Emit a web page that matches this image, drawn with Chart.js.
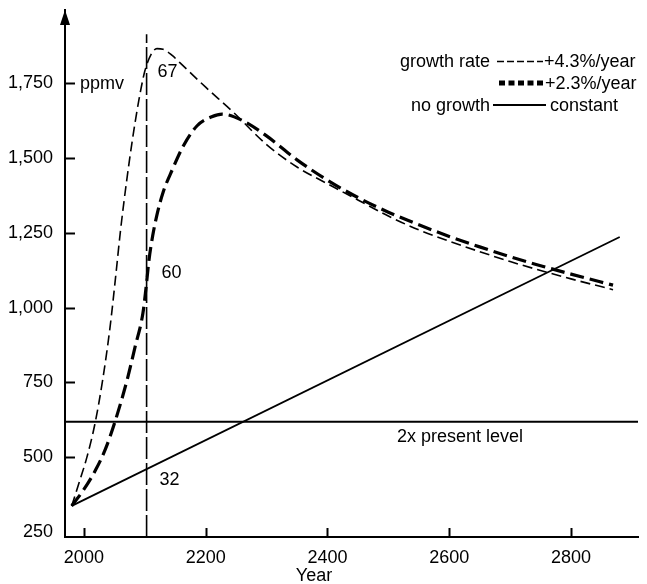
<!DOCTYPE html>
<html>
<head>
<meta charset="utf-8">
<script src="https://cdn.jsdelivr.net/npm/chart.js@4.4.1/dist/chart.umd.min.js"></script>
<style>
  html, body { margin: 0; padding: 0; background: #fff; }
  #wrap { width: 647px; height: 584px; position: relative; }
</style>
</head>
<body>
<div id="wrap"><canvas id="c" width="647" height="584"></canvas></div>
<script>
// ---- Data ----
const yearTicks = [2000, 2200, 2400, 2600, 2800];
const ppmvTicks = [250, 500, 750, 1000, 1250, 1500, 1750];

const years43 = [1980, 1993, 2005, 2018, 2031, 2043, 2052, 2060, 2070, 2080, 2090, 2100, 2110, 2120, 2130, 2145, 2158, 2200, 2245, 2300, 2350, 2400, 2450, 2500, 2550, 2600, 2650, 2700, 2750, 2800, 2869];
const ppmv43  = [337, 420, 500, 610, 760, 935, 1100, 1255, 1420, 1565, 1690, 1790, 1845, 1866, 1864, 1843, 1818, 1737, 1654, 1545, 1470, 1414, 1360, 1306, 1260, 1222, 1187, 1154, 1124, 1096, 1060];

const years23 = [1980, 2000, 2020, 2035, 2051, 2071, 2084, 2097, 2102, 2107, 2113, 2120, 2130, 2145, 2164, 2186, 2210, 2227, 2260, 2300, 2350, 2400, 2450, 2500, 2550, 2600, 2650, 2700, 2750, 2800, 2869];
const ppmv23  = [337, 392, 460, 525, 618, 758, 868, 982, 1065, 1160, 1240, 1310, 1385, 1460, 1543, 1608, 1638, 1647, 1626, 1574, 1494, 1426, 1368, 1319, 1277, 1238, 1203, 1170, 1140, 1112, 1075];

const yearsConst = [1980, 2880];
const ppmvConst  = [337, 1236];

const twiceLevel = 618;          // "2x present level"
const markYear = 2103;           // vertical dashed marker
const markTop = 1914;
const markLabels = ["67", "60", "32"];
const labelValues = [1793, 1122, 430];   // where the three labels sit

const FONT = "'Liberation Sans', Arial, Helvetica, sans-serif";

function pts(xs, ys) { return xs.map((x, i) => ({ x: x, y: ys[i] })); }

const X_MIN = 1969, X_MAX = 2910, Y_MIN = 233, Y_MAX = 1995;

const annotate = {
  id: 'annotate',
  afterDraw(chart) {
    const ctx = chart.ctx;
    const xs = chart.scales.x, ys = chart.scales.y;
    const area = chart.chartArea;
    ctx.save();
    ctx.strokeStyle = '#000';
    ctx.fillStyle = '#000';
    ctx.lineWidth = 2;
    ctx.setLineDash([]);
    // inward ticks
    ppmvTicks.forEach(v => {
      if (v === 250) return;
      const py = Math.round(ys.getPixelForValue(v)) + 0.5;
      ctx.beginPath(); ctx.moveTo(area.left, py); ctx.lineTo(area.left + 10, py); ctx.stroke();
    });
    yearTicks.forEach(v => {
      const px = Math.round(xs.getPixelForValue(v)) + 0.5;
      ctx.beginPath(); ctx.moveTo(px, area.bottom); ctx.lineTo(px, area.bottom - 9); ctx.stroke();
    });
    // arrow on y axis
    ctx.beginPath();
    ctx.moveTo(area.left, area.top);
    ctx.lineTo(area.left - 5, area.top + 15);
    ctx.lineTo(area.left + 5, area.top + 15);
    ctx.closePath();
    ctx.fill();

    // texts
    ctx.font = '18px ' + FONT;
    ctx.textBaseline = 'alphabetic';
    ctx.textAlign = 'left';
    ctx.fillText('ppmv', 80, 89);
    const mx = xs.getPixelForValue(markYear);
    ctx.fillText(markLabels[0], mx + 11, ys.getPixelForValue(labelValues[0]) + 6.5);
    ctx.fillText(markLabels[1], mx + 15, ys.getPixelForValue(labelValues[1]) + 6.5);
    ctx.fillText(markLabels[2], mx + 13, ys.getPixelForValue(labelValues[2]) + 6.5);
    ctx.fillText('2x present level', 397, ys.getPixelForValue(twiceLevel) + 20);
    ctx.textAlign = 'center';
    ctx.fillText('Year', 314, 581);

    // legend
    const rows = [61, 83, 105];
    ctx.textAlign = 'right';
    ctx.fillText('growth rate', 490, rows[0] + 6);
    ctx.fillText('no growth', 490, rows[2] + 6);
    ctx.textAlign = 'left';
    ctx.fillText('+4.3%/year', 544, rows[0] + 6);
    ctx.fillText('+2.3%/year', 545, rows[1] + 6);
    ctx.fillText('constant', 550, rows[2] + 6);
    // samples
    ctx.lineWidth = 1.6;
    ctx.setLineDash([7, 3]);
    ctx.beginPath(); ctx.moveTo(497, rows[0] + 0.5); ctx.lineTo(543, rows[0] + 0.5); ctx.stroke();
    ctx.lineWidth = 5;
    ctx.setLineDash([6, 3.5]);
    ctx.beginPath(); ctx.moveTo(499, rows[1]); ctx.lineTo(545, rows[1]); ctx.stroke();
    ctx.lineWidth = 1.8;
    ctx.setLineDash([]);
    ctx.beginPath(); ctx.moveTo(493, rows[2]); ctx.lineTo(546, rows[2]); ctx.stroke();
    ctx.restore();
  }
};

new Chart(document.getElementById('c'), {
  type: 'line',
  data: {
    datasets: [
      { label: '+4.3%/year', data: pts(years43, ppmv43), borderColor: '#000', borderWidth: 1.6,
        borderDash: [10, 5], pointRadius: 0, cubicInterpolationMode: 'monotone', fill: false },
      { label: '+2.3%/year', data: pts(years23, ppmv23), borderColor: '#000', borderWidth: 3.2,
        borderDash: [14, 6], pointRadius: 0, cubicInterpolationMode: 'monotone', fill: false },
      { label: 'constant', data: pts(yearsConst, ppmvConst), borderColor: '#000', borderWidth: 1.8,
        pointRadius: 0, fill: false },
      { label: '2x present level', data: pts([X_MIN, X_MAX], [twiceLevel, twiceLevel]), borderColor: '#000',
        borderWidth: 2, pointRadius: 0, fill: false },
      { label: 'marker', data: pts([markYear, markYear], [Y_MIN, markTop]), borderColor: '#000',
        borderWidth: 1.6, borderDash: [22, 4], pointRadius: 0, fill: false }
    ]
  },
  options: {
    responsive: false,
    animation: false,
    layout: { padding: { top: 10, right: 9, left: 0, bottom: 0 } },
    plugins: { legend: { display: false }, tooltip: { enabled: false } },
    scales: {
      x: {
        type: 'linear', min: X_MIN, max: X_MAX,
        afterBuildTicks: s => { s.ticks = yearTicks.map(v => ({ value: v })); },
        afterFit: s => { s.height = 47; s.paddingLeft = 0; s.paddingRight = 0; },
        grid: { display: false, drawTicks: false },
        border: { display: true, color: '#000', width: 2 },
        ticks: { color: '#000', font: { size: 18, family: FONT }, padding: 10, maxRotation: 0,
                 callback: v => String(v) }
      },
      y: {
        type: 'linear', min: Y_MIN, max: Y_MAX,
        afterBuildTicks: s => { s.ticks = ppmvTicks.map(v => ({ value: v })); },
        afterFit: s => { s.width = 65; s.paddingTop = 0; s.paddingBottom = 0; },
        grid: { display: false, drawTicks: false },
        border: { display: true, color: '#000', width: 2 },
        ticks: { color: '#000', font: { size: 18, family: FONT }, padding: 12,
                 callback: v => v.toLocaleString('en-US') }
      }
    }
  },
  plugins: [annotate]
});
</script>
</body>
</html>
